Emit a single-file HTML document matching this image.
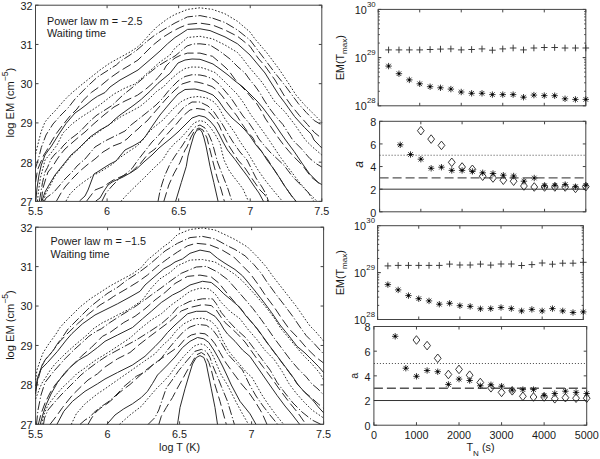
<!DOCTYPE html>
<html><head><meta charset="utf-8"><style>
html,body{margin:0;padding:0;background:#fff;}
svg{display:block;}
</style></head><body>
<svg width="600" height="459" viewBox="0 0 600 459" font-family='"Liberation Sans", sans-serif' fill="#1a1a1a">
<rect width="600" height="459" fill="#fff"/>
<g>
<rect x="35.5" y="5.2" width="286.30" height="196.20" stroke="#444" stroke-width="1" fill="none"/>
<text x="35.50" y="214.70" font-size="10.8" text-anchor="middle" >5.5</text>
<text x="107.08" y="214.70" font-size="10.8" text-anchor="middle" >6</text>
<text x="178.65" y="214.70" font-size="10.8" text-anchor="middle" >6.5</text>
<text x="250.23" y="214.70" font-size="10.8" text-anchor="middle" >7</text>
<text x="321.80" y="214.70" font-size="10.8" text-anchor="middle" >7.5</text>
<text x="32.50" y="205.80" font-size="10.8" text-anchor="end" >27</text>
<text x="32.50" y="166.56" font-size="10.8" text-anchor="end" >28</text>
<text x="32.50" y="127.32" font-size="10.8" text-anchor="end" >29</text>
<text x="32.50" y="88.08" font-size="10.8" text-anchor="end" >30</text>
<text x="32.50" y="48.84" font-size="10.8" text-anchor="end" >31</text>
<text x="32.50" y="9.60" font-size="10.8" text-anchor="end" >32</text>
<path d="M35.50,201.4v-3.0M35.50,5.2v3.0M107.08,201.4v-3.0M107.08,5.2v3.0M178.65,201.4v-3.0M178.65,5.2v3.0M250.23,201.4v-3.0M250.23,5.2v3.0M321.80,201.4v-3.0M321.80,5.2v3.0M35.5,201.40h3.0M321.8,201.40h-3.0M35.5,162.16h3.0M321.8,162.16h-3.0M35.5,122.92h3.0M321.8,122.92h-3.0M35.5,83.68h3.0M321.8,83.68h-3.0M35.5,44.44h3.0M321.8,44.44h-3.0M35.5,5.20h3.0M321.8,5.20h-3.0" stroke="#444" stroke-width="1" fill="none"/>
<text x="47" y="25.1" font-size="10.8" text-anchor="start" >Power law m = −2.5</text>
<text x="47" y="37.3" font-size="10.8" text-anchor="start" >Waiting time</text>
<text transform="translate(13.6,102.60) rotate(-90)" font-size="11.1" text-anchor="middle">log EM (cm<tspan dy="-5.3" font-size="8.6">−5</tspan><tspan dy="5.3">)</tspan></text>
<path d="M35.6,154.0L38.0,144.0L41.0,132.0L45.0,122.0L50.0,116.0L55.0,111.0L61.0,104.0L65.5,99.0L70.0,94.5L80.0,86.0L90.0,78.0L100.0,70.0L110.0,63.0L120.0,57.5L130.0,52.0L137.0,47.5L142.5,42.5L150.0,33.8L157.5,26.3L167.5,18.8L175.0,14.4L180.0,12.5L187.5,9.4L200.0,7.8L212.5,9.4L225.0,13.8L237.5,21.3L250.0,32.0L255.0,39.0L261.0,46.0L267.0,53.0L273.0,61.0L279.0,69.0L289.0,84.0L296.0,95.0L304.4,104.8L312.3,112.6L321.8,122.3" stroke="#2a2a2a" stroke-width="1" fill="none" stroke-dasharray="1.6,1.8"/>
<path d="M35.6,168.0L38.8,157.5L41.3,147.5L46.0,135.0L53.0,124.0L61.0,115.0L68.0,108.0L75.0,99.0L87.5,86.3L97.5,77.0L110.0,69.0L116.3,65.0L120.0,61.5L130.0,55.0L137.0,50.0L147.0,41.3L155.0,35.0L165.0,28.8L175.0,23.0L187.5,16.9L200.0,15.6L212.5,18.1L225.0,22.5L237.5,30.0L250.0,40.0L263.0,57.0L269.0,65.0L275.0,73.0L285.0,85.5L298.5,103.8L306.4,112.6L314.2,120.5L321.8,125.0" stroke="#2a2a2a" stroke-width="1" fill="none" stroke-dasharray="9,2.3,1.2,2"/>
<path d="M35.6,182.0L37.5,170.0L40.0,163.8L43.8,155.0L47.0,150.0L50.0,144.0L56.0,134.0L62.0,126.0L70.0,116.0L77.0,109.0L83.0,100.5L91.3,92.5L100.0,86.3L110.0,78.0L120.0,71.0L130.0,65.0L138.0,60.0L143.0,55.0L152.5,45.5L162.5,37.5L172.5,31.3L180.0,27.5L187.5,24.4L200.0,23.1L212.5,25.0L225.0,30.0L237.5,36.3L250.0,46.3L258.0,58.0L265.0,66.0L275.0,80.0L283.8,95.0L290.7,104.8L299.5,115.6L307.4,124.4L314.2,132.3L321.8,138.5" stroke="#2a2a2a" stroke-width="1" fill="none" stroke-dasharray="9.5,3.8"/>
<path d="M35.8,201.0L37.0,188.0L39.0,175.0L41.3,165.0L45.0,155.0L51.5,146.0L59.0,134.0L66.0,123.5L75.0,113.0L80.0,109.5L86.0,105.0L92.0,100.0L97.5,96.3L105.0,92.5L110.0,87.0L120.0,80.0L130.0,74.5L138.0,70.0L145.0,64.0L152.0,58.0L160.0,51.0L167.5,43.8L175.0,37.5L180.0,34.4L187.5,29.4L200.0,28.8L210.0,30.6L225.0,36.9L237.5,43.8L250.0,55.0L255.0,61.0L260.0,67.0L265.0,73.0L270.0,81.0L278.9,95.0L284.8,102.8L294.6,116.6L304.4,127.4L311.3,134.2L314.0,140.0L319.6,145.7L321.8,148.0" stroke="#2a2a2a" stroke-width="1" fill="none" />
<path d="M37.5,201.0L38.5,191.0L40.5,177.5L43.8,165.0L45.0,160.0L51.0,153.0L57.0,145.0L63.0,133.0L72.0,124.0L80.0,118.0L90.0,111.5L99.0,105.5L110.0,97.0L114.0,94.0L125.0,88.0L135.0,84.0L143.0,77.0L152.0,69.0L160.0,62.0L170.0,55.0L175.0,48.0L180.0,44.0L187.5,37.5L200.0,36.3L212.5,38.8L225.0,45.0L237.5,52.5L243.0,59.0L249.0,67.0L255.0,74.0L261.0,81.0L266.0,88.0L271.0,96.0L275.0,102.0L284.8,111.7L294.6,124.4L305.4,140.0L312.5,147.0L321.8,155.0" stroke="#2a2a2a" stroke-width="1" fill="none" stroke-dasharray="1.6,1.8"/>
<path d="M39.4,201.0L40.0,197.5L42.5,182.5L45.0,172.0L47.5,167.5L51.0,159.0L55.0,154.0L60.0,150.0L63.0,146.0L69.0,140.0L77.0,134.0L82.0,129.5L90.0,121.0L97.0,115.0L105.0,110.0L112.0,105.5L123.0,95.0L133.0,87.0L141.0,80.0L148.0,74.0L158.0,66.0L168.0,60.0L175.0,56.0L181.0,51.0L187.0,46.0L193.0,44.0L200.0,43.8L210.0,45.0L220.0,51.3L230.0,59.0L238.0,67.0L245.0,73.0L250.0,80.0L255.0,86.0L260.0,93.0L264.0,100.0L270.0,109.0L275.0,115.6L282.8,124.4L292.7,140.0L301.2,148.5L309.7,158.4L316.7,164.0L321.8,167.0" stroke="#2a2a2a" stroke-width="1" fill="none" stroke-dasharray="9,2.3,1.2,2"/>
<path d="M41.3,201.0L43.0,188.0L46.0,178.0L48.0,172.0L53.0,166.0L56.0,161.0L60.0,155.0L65.0,149.0L73.0,142.0L80.0,136.0L85.0,132.0L93.0,124.5L104.0,115.0L114.0,107.0L125.0,101.0L137.3,95.3L144.7,90.0L148.0,87.3L154.7,81.3L158.0,77.5L163.3,71.3L166.0,66.0L170.0,62.0L175.0,58.0L180.0,55.5L187.5,53.1L200.0,53.1L212.5,56.3L218.0,61.0L225.0,67.0L229.0,71.0L234.0,78.0L237.0,82.0L245.0,90.0L251.0,97.0L257.0,104.0L262.0,112.0L265.0,118.0L269.0,124.0L273.0,130.0L278.5,138.0L284.2,145.7L292.7,155.6L302.6,165.5L311.0,176.8L318.0,182.5L321.8,185.0" stroke="#2a2a2a" stroke-width="1" fill="none" stroke-dasharray="9.5,3.8"/>
<path d="M42.0,201.0L45.0,192.0L49.0,185.0L55.0,175.0L63.0,165.0L71.0,155.0L78.0,149.0L85.0,142.0L90.0,137.0L100.0,130.0L109.0,125.0L114.0,120.0L120.0,115.0L134.0,105.0L141.3,99.3L150.0,91.3L158.0,83.3L170.0,73.3L178.0,63.0L185.0,60.0L192.0,59.0L200.0,59.3L205.0,61.0L213.0,64.0L220.0,69.0L228.0,75.0L235.0,81.0L243.0,87.0L250.0,94.0L257.0,101.0L263.0,108.0L269.0,116.0L274.0,123.0L280.0,132.0L285.6,140.0L294.0,151.3L302.6,164.0L309.7,174.0L318.2,182.5L321.8,184.6" stroke="#2a2a2a" stroke-width="1" fill="none" />
<path d="M43.5,201.0L46.0,193.0L50.0,186.0L55.0,176.0L63.0,166.0L71.0,156.0L78.0,149.5L85.0,142.5L90.0,138.0L100.0,131.0L107.0,126.0L113.0,122.0L122.0,116.0L130.0,112.0L140.0,106.5L149.0,99.0L156.7,91.3L163.3,87.0L170.0,80.0L178.0,73.0L185.0,68.5L192.0,67.0L200.0,67.2L206.0,69.0L215.0,72.5L223.0,80.0L230.0,87.0L237.0,94.0L243.0,102.0L251.0,115.0L257.0,123.0L262.0,130.0L267.0,137.0L272.8,145.7L281.3,158.4L289.8,169.7L298.3,181.0L306.8,191.0L315.3,199.5L317.0,201.4" stroke="#2a2a2a" stroke-width="1" fill="none" stroke-dasharray="1.6,1.8"/>
<path d="M44.5,201.0L46.0,198.0L50.0,195.0L54.0,192.0L60.0,185.0L65.0,179.0L73.0,171.0L77.0,166.0L85.0,159.0L95.0,147.0L105.0,141.0L115.0,136.0L125.0,131.0L131.0,125.0L140.0,118.0L150.0,110.0L156.0,105.0L162.0,99.0L170.0,89.0L178.0,81.0L185.0,76.5L192.0,74.7L200.0,75.0L205.0,76.0L213.0,79.0L219.0,84.0L225.0,91.0L231.0,98.0L237.0,107.0L243.0,116.0L249.0,123.0L255.0,132.0L259.0,139.0L263.0,144.0L270.0,152.0L284.2,165.5L292.7,176.8L299.7,183.9L308.2,192.4L313.9,201.4" stroke="#2a2a2a" stroke-width="1" fill="none" stroke-dasharray="9,2.3,1.2,2"/>
<path d="M56.5,201.0L61.0,193.0L65.0,187.0L73.0,178.0L80.0,171.0L87.0,165.0L95.0,159.0L103.0,152.0L113.0,146.0L121.0,143.0L127.0,139.0L132.0,134.0L138.0,129.0L142.0,125.0L147.0,121.0L153.0,114.0L160.0,106.0L166.0,99.0L175.0,90.0L182.0,84.0L190.0,81.5L197.0,82.0L205.0,84.0L212.0,86.5L218.0,91.0L223.0,97.0L227.0,103.0L230.0,107.0L237.0,116.0L242.0,124.0L247.0,131.0L253.0,138.0L256.0,144.0L262.0,152.0L268.0,160.0L273.0,168.0L279.0,177.0L284.0,185.0L291.0,195.0L296.0,201.4" stroke="#2a2a2a" stroke-width="1" fill="none" stroke-dasharray="9.5,3.8"/>
<path d="M79.5,201.0L85.0,196.0L88.0,190.0L91.0,182.0L94.0,174.0L99.0,171.0L102.0,169.0L110.0,164.0L116.0,161.0L120.0,156.0L125.0,150.0L133.0,146.0L140.0,142.0L145.0,137.0L149.0,131.0L153.0,125.0L160.0,115.0L170.0,103.0L178.0,94.0L185.0,89.5L195.0,89.0L205.0,91.5L213.0,95.0L218.0,100.0L225.0,110.0L232.0,118.0L239.0,124.0L245.0,130.0L250.0,136.0L256.0,145.0L262.0,152.0L267.0,160.0L273.0,168.0L279.0,177.0L284.0,185.0L291.0,195.2L296.2,201.4" stroke="#2a2a2a" stroke-width="1" fill="none" />
<path d="M66.0,201.0L70.0,194.0L77.0,187.0L85.0,181.0L93.0,175.5L99.0,172.5L105.0,169.0L112.0,164.5L120.0,157.5L128.0,152.0L137.0,146.0L142.0,141.0L148.0,133.0L153.0,128.0L158.0,124.0L163.0,120.0L173.0,109.0L182.0,101.0L190.0,97.5L198.0,96.5L207.0,98.0L214.0,102.0L219.0,108.0L225.0,119.0L230.0,126.0L235.0,133.0L239.0,140.0L243.0,146.0L248.0,153.0L252.0,160.0L258.0,170.0L265.0,180.0L273.0,190.0L282.5,201.4" stroke="#2a2a2a" stroke-width="1" fill="none" stroke-dasharray="1.6,1.8"/>
<path d="M102.0,201.0L106.0,193.0L112.0,186.0L120.0,178.0L127.0,173.0L132.0,168.5L138.0,160.0L145.0,151.0L152.0,142.0L158.0,136.0L164.0,129.0L170.0,122.5L177.0,115.0L184.0,107.0L192.0,102.0L200.0,102.0L208.0,106.0L214.0,112.0L218.0,118.0L221.0,122.0L224.0,127.0L228.0,134.0L233.0,142.0L240.0,152.0L247.0,160.0L251.0,168.0L256.0,178.0L262.0,187.0L266.0,194.0L268.5,201.4" stroke="#2a2a2a" stroke-width="1" fill="none" stroke-dasharray="9,2.3,1.2,2"/>
<path d="M86.7,201.0L92.0,194.0L95.0,190.0L103.3,186.7L113.3,180.0L125.0,175.0L131.7,171.7L140.0,164.0L148.0,154.0L155.0,149.0L162.0,140.0L170.0,131.0L176.0,124.5L183.0,116.0L190.0,110.0L197.0,108.5L204.0,109.5L210.0,113.0L215.0,119.0L219.0,125.0L222.0,132.0L226.0,140.0L229.0,146.0L238.0,160.0L245.0,168.0L253.0,180.0L260.0,190.0L265.0,195.0L268.0,201.4" stroke="#2a2a2a" stroke-width="1" fill="none" stroke-dasharray="9.5,3.8"/>
<path d="M95.8,201.0L100.0,198.0L104.0,191.0L108.0,185.0L113.0,181.5L123.0,177.0L131.0,172.5L137.0,168.5L145.0,161.0L152.0,155.0L159.0,148.0L165.0,143.0L170.0,139.0L178.0,132.0L185.0,125.0L192.0,118.0L199.0,115.5L205.0,117.0L210.0,121.0L215.0,127.0L219.0,134.0L223.0,142.0L227.5,150.0L235.0,159.5L242.0,169.0L248.0,177.0L254.0,186.0L259.0,193.0L263.5,201.4" stroke="#2a2a2a" stroke-width="1" fill="none" />
<path d="M120.8,201.4L128.3,193.3L135.0,186.7L145.0,177.0L155.0,167.0L162.5,160.0L168.8,150.0L175.0,143.0L180.0,139.0L188.0,130.0L194.0,123.0L200.0,120.5L205.0,122.0L210.0,127.0L215.0,134.0L220.0,143.0L222.0,152.0L224.0,160.0L228.8,170.0L233.0,176.0L237.0,181.0L243.0,189.0L248.5,201.4" stroke="#2a2a2a" stroke-width="1" fill="none" stroke-dasharray="1.6,1.8"/>
<path d="M158.0,201.4L160.0,191.0L162.0,184.0L165.0,175.0L170.0,164.0L175.0,156.0L182.0,146.0L189.0,135.0L195.0,127.0L200.0,125.0L205.0,128.0L209.0,135.0L212.0,142.0L214.0,149.0L217.5,162.0L222.5,175.0L227.5,187.5L232.0,201.4" stroke="#2a2a2a" stroke-width="1" fill="none" stroke-dasharray="9,2.3,1.2,2"/>
<path d="M163.8,201.4L168.8,185.0L173.8,173.8L180.0,162.5L185.0,150.0L187.0,147.0L191.0,137.0L195.0,130.0L199.0,128.0L203.0,130.0L207.0,138.0L209.5,148.0L213.8,165.0L217.5,178.8L221.3,190.0L224.4,201.4" stroke="#2a2a2a" stroke-width="1" fill="none" stroke-dasharray="9.5,3.8"/>
<path d="M175.6,201.4L181.3,182.5L186.3,166.3L188.0,156.0L191.0,145.0L194.0,135.0L197.0,130.0L200.0,129.5L202.0,132.0L204.0,138.0L206.0,146.0L208.0,156.0L210.0,166.3L213.8,182.5L218.1,201.4" stroke="#2a2a2a" stroke-width="1" fill="none" />
<rect x="35.6" y="227.2" width="288.00" height="197.10" stroke="#444" stroke-width="1" fill="none"/>
<text x="35.60" y="437.60" font-size="10.8" text-anchor="middle" >5.5</text>
<text x="107.60" y="437.60" font-size="10.8" text-anchor="middle" >6</text>
<text x="179.60" y="437.60" font-size="10.8" text-anchor="middle" >6.5</text>
<text x="251.60" y="437.60" font-size="10.8" text-anchor="middle" >7</text>
<text x="323.60" y="437.60" font-size="10.8" text-anchor="middle" >7.5</text>
<text x="32.60" y="428.70" font-size="10.8" text-anchor="end" >27</text>
<text x="32.60" y="389.28" font-size="10.8" text-anchor="end" >28</text>
<text x="32.60" y="349.86" font-size="10.8" text-anchor="end" >29</text>
<text x="32.60" y="310.44" font-size="10.8" text-anchor="end" >30</text>
<text x="32.60" y="271.02" font-size="10.8" text-anchor="end" >31</text>
<text x="32.60" y="231.60" font-size="10.8" text-anchor="end" >32</text>
<path d="M35.60,424.3v-3.0M35.60,227.2v3.0M107.60,424.3v-3.0M107.60,227.2v3.0M179.60,424.3v-3.0M179.60,227.2v3.0M251.60,424.3v-3.0M251.60,227.2v3.0M323.60,424.3v-3.0M323.60,227.2v3.0M35.6,424.30h3.0M323.6,424.30h-3.0M35.6,384.88h3.0M323.6,384.88h-3.0M35.6,345.46h3.0M323.6,345.46h-3.0M35.6,306.04h3.0M323.6,306.04h-3.0M35.6,266.62h3.0M323.6,266.62h-3.0M35.6,227.20h3.0M323.6,227.20h-3.0" stroke="#444" stroke-width="1" fill="none"/>
<text x="50.6" y="245.2" font-size="10.8" text-anchor="start" >Power law m = −1.5</text>
<text x="50.6" y="257.5" font-size="10.8" text-anchor="start" >Waiting time</text>
<text transform="translate(13.6,325.05) rotate(-90)" font-size="11.1" text-anchor="middle">log EM (cm<tspan dy="-5.3" font-size="8.6">−5</tspan><tspan dy="5.3">)</tspan></text>
<path d="M35.6,380.0L37.0,370.0L40.0,361.0L43.0,353.0L48.0,345.0L52.0,339.5L56.0,334.0L60.0,327.5L65.0,322.0L70.0,317.0L80.0,307.0L90.0,299.0L100.0,292.5L110.0,286.0L120.0,280.5L132.5,273.8L141.3,267.5L147.5,260.0L155.0,253.8L162.5,247.5L170.0,242.0L177.5,234.5L190.0,229.5L202.5,228.0L215.0,230.0L227.5,235.8L235.0,239.5L247.5,247.0L257.5,257.0L266.3,267.0L272.5,275.8L278.3,283.3L287.7,295.3L297.0,307.3L305.0,319.0L310.0,326.0L315.7,331.7L323.6,341.0" stroke="#2a2a2a" stroke-width="1" fill="none" stroke-dasharray="1.6,1.8"/>
<path d="M35.6,386.0L37.5,380.0L40.0,371.3L42.5,364.0L46.0,359.0L52.0,352.0L58.0,343.0L64.0,335.0L68.0,329.0L80.0,317.0L90.0,307.0L100.0,299.0L108.0,293.0L118.0,287.0L126.3,280.5L138.8,272.5L148.8,265.0L157.5,257.5L165.0,251.0L177.5,243.3L190.0,237.6L202.5,236.4L215.0,238.9L227.5,245.8L235.0,249.5L245.0,255.8L253.8,264.5L261.3,273.3L266.3,281.0L275.7,294.0L285.0,306.0L293.0,316.7L300.0,327.0L306.3,335.7L314.3,343.7L323.6,354.0" stroke="#2a2a2a" stroke-width="1" fill="none" stroke-dasharray="9,2.3,1.2,2"/>
<path d="M35.6,391.0L38.0,380.0L41.3,367.5L45.0,360.0L52.5,351.3L60.0,341.3L68.0,333.0L77.5,323.8L88.8,313.8L100.0,305.0L110.0,299.0L113.8,296.3L128.8,287.5L138.8,281.3L147.5,275.0L157.5,266.3L167.5,258.8L177.5,252.0L187.5,245.8L196.0,243.3L208.8,244.5L221.3,249.5L233.8,257.0L242.5,265.8L250.0,273.3L258.3,284.7L266.3,296.7L274.3,307.3L282.3,319.3L289.0,328.7L298.3,338.3L306.3,347.7L315.7,357.0L323.6,363.0" stroke="#2a2a2a" stroke-width="1" fill="none" stroke-dasharray="9.5,3.8"/>
<path d="M35.6,394.0L37.5,377.5L41.3,368.8L47.5,362.5L57.5,351.3L66.3,340.0L72.0,333.5L82.5,323.8L95.0,315.0L105.0,310.0L117.5,303.8L130.0,297.0L140.0,291.3L145.0,285.0L155.0,276.3L163.8,268.8L170.0,265.5L175.0,262.0L182.5,258.9L190.0,253.3L200.0,250.1L210.0,252.0L217.5,258.3L225.0,263.3L235.0,269.5L242.5,275.8L248.8,283.3L254.3,290.0L263.7,302.0L271.7,312.7L280.0,325.0L287.7,334.3L297.0,346.3L305.0,353.0L311.7,359.7L318.3,366.3L323.6,372.5" stroke="#2a2a2a" stroke-width="1" fill="none" />
<path d="M35.6,399.0L39.0,390.0L42.0,383.0L46.0,377.0L50.0,370.5L55.0,364.0L60.0,359.0L65.0,354.0L70.0,349.5L75.0,345.0L81.0,340.0L87.0,335.0L93.0,329.0L102.0,323.0L110.0,319.0L117.5,315.0L130.0,308.8L142.5,300.0L151.3,288.0L160.0,278.8L170.0,272.5L177.5,265.8L190.0,260.1L202.5,259.5L215.0,262.0L227.5,269.5L235.0,274.5L242.5,281.0L255.7,295.3L265.0,306.0L274.3,318.0L281.0,328.7L288.0,337.0L295.7,346.3L303.7,355.7L311.7,363.7L319.7,373.0L323.6,380.0" stroke="#2a2a2a" stroke-width="1" fill="none" stroke-dasharray="1.6,1.8"/>
<path d="M36.5,424.4L38.0,410.0L41.0,395.0L45.0,382.5L53.8,371.3L65.0,358.8L73.8,350.0L85.0,340.0L88.8,336.3L96.3,331.3L101.3,328.8L110.0,322.5L120.0,316.0L133.8,307.5L146.3,298.8L151.3,295.0L160.0,288.8L170.0,281.3L181.3,273.3L196.3,267.0L206.3,266.4L217.5,272.0L227.5,279.5L236.0,289.0L245.0,299.3L253.0,308.7L261.0,319.3L267.7,328.7L274.3,338.3L282.3,349.0L290.3,359.7L298.3,369.0L306.3,377.0L311.7,383.7L318.0,389.0L323.6,395.0" stroke="#2a2a2a" stroke-width="1" fill="none" stroke-dasharray="9,2.3,1.2,2"/>
<path d="M38.3,424.4L41.0,414.0L45.0,403.0L50.0,393.0L55.0,385.0L62.5,376.3L71.3,366.3L81.3,356.3L91.3,347.5L102.5,336.3L110.0,332.5L123.8,322.5L135.0,316.3L145.0,308.8L155.0,300.0L165.0,292.5L175.0,283.5L187.5,276.4L200.0,275.1L211.3,277.0L218.8,283.0L227.5,293.8L235.0,302.5L245.0,314.0L250.3,320.7L257.0,328.7L261.0,334.3L267.7,343.7L275.7,354.3L283.7,365.0L291.7,375.7L297.0,383.7L303.7,391.3L311.7,398.0L318.3,404.0L323.6,408.4" stroke="#2a2a2a" stroke-width="1" fill="none" stroke-dasharray="9.5,3.8"/>
<path d="M40.2,424.4L43.0,414.0L46.0,405.0L51.0,394.0L57.5,382.5L65.0,372.5L71.3,366.3L78.8,360.0L87.5,355.0L97.5,347.5L105.0,341.3L117.5,335.0L132.5,327.5L142.5,318.8L151.3,311.3L161.3,302.5L172.5,295.0L180.0,291.3L190.0,285.0L202.5,281.3L211.3,282.5L217.5,287.5L223.8,293.8L231.3,300.0L240.0,307.5L246.0,316.0L251.3,321.7L258.0,329.7L262.0,335.3L268.7,344.7L276.7,355.3L284.7,366.0L292.7,376.7L298.0,384.7L304.7,392.3L312.7,400.0L318.3,407.0L323.6,412.8" stroke="#2a2a2a" stroke-width="1" fill="none" />
<path d="M42.0,424.4L43.0,418.0L44.5,413.0L48.0,405.0L55.0,396.0L63.0,387.0L70.0,380.5L77.0,373.5L85.0,368.0L95.0,360.5L110.0,351.3L117.5,346.3L130.0,338.0L140.0,329.0L151.3,320.0L161.3,313.8L171.3,305.0L180.0,298.8L190.0,291.3L200.0,288.1L208.8,288.8L215.0,293.8L221.3,302.5L230.0,311.3L240.0,318.8L247.7,329.0L257.0,339.7L265.0,350.3L274.3,359.7L282.3,371.7L289.0,383.7L296.0,393.0L304.0,402.0L312.0,410.0L323.6,418.0" stroke="#2a2a2a" stroke-width="1" fill="none" stroke-dasharray="1.6,1.8"/>
<path d="M43.5,424.4L44.5,418.0L48.0,410.0L53.0,404.0L61.0,395.0L68.0,388.0L76.0,380.0L81.0,375.0L87.0,370.0L95.0,364.0L100.0,360.5L106.3,356.3L120.0,348.8L136.3,340.0L150.0,331.3L161.3,323.8L171.3,315.0L177.5,307.5L190.0,301.3L202.5,298.8L212.5,298.8L216.3,303.8L221.3,312.5L227.5,320.0L235.0,328.0L246.3,338.3L254.3,349.0L262.3,359.7L270.3,370.3L277.0,382.3L285.0,393.0L293.0,403.0L302.0,412.0L312.0,420.0L321.0,424.4" stroke="#2a2a2a" stroke-width="1" fill="none" stroke-dasharray="9,2.3,1.2,2"/>
<path d="M50.0,424.4L56.3,416.3L62.5,407.5L72.5,395.0L81.3,386.3L88.0,380.0L97.5,373.8L105.0,367.0L117.5,358.8L130.0,352.5L140.0,344.0L150.0,336.3L160.0,328.8L170.0,321.3L181.3,311.0L190.0,307.5L202.5,304.6L211.3,305.6L216.3,310.0L221.3,317.5L225.0,322.5L230.0,327.0L237.5,334.0L245.0,342.0L255.7,357.0L263.7,367.7L271.7,378.3L280.0,390.0L289.0,402.0L298.0,413.0L306.0,424.4" stroke="#2a2a2a" stroke-width="1" fill="none" stroke-dasharray="9.5,3.8"/>
<path d="M56.9,424.4L63.8,411.3L72.5,401.3L85.0,391.3L97.5,383.8L105.0,379.0L117.5,372.5L132.5,365.0L145.0,356.3L155.0,346.5L161.3,340.0L167.5,332.5L175.0,325.0L180.0,320.5L187.5,313.8L196.3,311.3L206.3,311.3L215.0,316.3L220.0,322.5L223.8,329.0L227.5,334.0L235.0,341.3L242.5,350.0L250.0,356.5L258.0,368.0L267.7,382.0L277.0,395.3L285.0,406.0L291.7,414.0L299.7,424.4" stroke="#2a2a2a" stroke-width="1" fill="none" />
<path d="M71.3,424.4L76.3,413.8L85.0,403.8L97.5,393.8L105.0,388.8L117.5,380.0L130.0,371.3L142.5,362.5L155.0,353.8L163.0,345.0L170.0,338.8L176.0,331.0L183.8,323.8L193.8,318.8L202.5,318.1L211.3,321.3L217.5,328.0L222.5,340.0L228.8,351.3L235.0,358.8L241.3,366.3L247.0,373.0L251.7,377.0L255.7,384.0L262.0,395.0L268.0,404.0L276.0,415.0L283.7,424.4" stroke="#2a2a2a" stroke-width="1" fill="none" stroke-dasharray="1.6,1.8"/>
<path d="M80.0,424.4L85.0,420.0L90.0,417.0L94.0,412.5L100.0,407.5L108.0,402.0L114.0,397.0L119.0,392.0L124.0,386.5L130.0,381.5L136.3,376.3L146.3,371.3L152.5,365.0L160.0,360.0L167.5,350.0L175.0,341.0L183.8,331.3L190.0,327.0L197.5,324.4L206.3,325.3L212.5,329.5L217.5,336.3L222.5,345.0L227.5,353.8L235.0,362.0L242.5,370.0L249.0,383.7L256.0,396.0L263.0,406.0L270.0,415.0L277.7,424.4" stroke="#2a2a2a" stroke-width="1" fill="none" stroke-dasharray="9,2.3,1.2,2"/>
<path d="M88.0,424.4L91.0,419.0L93.0,416.0L96.0,412.0L100.0,408.5L108.0,403.0L114.0,398.0L119.0,393.0L126.0,387.5L130.0,384.5L135.0,380.0L146.0,370.0L157.5,361.3L170.0,352.5L178.8,346.3L185.0,339.0L191.3,335.0L198.8,333.1L205.0,333.8L210.0,337.5L215.0,343.8L220.0,352.5L226.0,363.0L233.8,373.8L241.3,383.8L248.8,392.5L256.0,403.0L262.0,413.0L267.0,424.4" stroke="#2a2a2a" stroke-width="1" fill="none" stroke-dasharray="9.5,3.8"/>
<path d="M106.9,424.4L115.0,415.0L123.8,408.8L132.5,403.8L141.3,397.5L147.5,391.3L152.5,383.5L157.5,375.0L160.0,372.5L167.5,365.0L175.0,357.0L182.5,347.5L190.0,341.3L197.5,337.5L203.8,338.8L208.8,342.5L213.8,350.0L218.8,358.8L222.5,366.0L226.3,374.0L231.3,385.0L240.0,401.3L250.0,413.8L256.0,424.4" stroke="#2a2a2a" stroke-width="1" fill="none" />
<path d="M119.4,424.4L130.0,415.0L141.3,406.3L148.8,397.5L156.3,388.8L163.8,381.3L170.0,374.5L176.0,366.0L183.8,356.3L193.8,346.3L200.0,343.8L205.0,345.0L210.0,350.0L213.8,357.5L217.5,366.3L221.3,375.0L227.5,385.0L236.3,402.5L242.0,413.0L248.5,424.4" stroke="#2a2a2a" stroke-width="1" fill="none" stroke-dasharray="1.6,1.8"/>
<path d="M148.1,424.4L155.0,417.5L158.8,410.0L162.5,399.0L166.3,388.0L171.3,381.3L178.8,370.5L187.5,360.0L195.0,351.3L201.3,349.4L206.3,351.3L210.0,357.5L212.5,365.0L215.0,371.0L218.0,378.0L221.3,386.3L227.5,401.3L234.4,424.4" stroke="#2a2a2a" stroke-width="1" fill="none" stroke-dasharray="9,2.3,1.2,2"/>
<path d="M158.8,424.4L161.3,416.3L166.3,407.5L172.5,397.5L177.5,388.0L182.0,380.0L187.5,370.0L191.3,363.8L196.3,355.0L201.3,352.5L205.0,355.0L208.8,362.5L211.3,370.0L215.0,385.0L220.0,401.3L226.3,424.4" stroke="#2a2a2a" stroke-width="1" fill="none" stroke-dasharray="9.5,3.8"/>
<path d="M177.5,424.4L180.0,407.5L185.0,388.8L188.5,377.0L192.5,364.0L196.3,357.5L200.0,355.6L203.8,357.5L206.3,363.8L207.5,370.0L211.3,388.8L215.0,407.5L217.5,424.4" stroke="#2a2a2a" stroke-width="1" fill="none" />
<text x="179.6" y="451.3" font-size="10.8" text-anchor="middle">log T (K)</text>
<rect x="378.2" y="9.4" width="207.60" height="96.40" stroke="#444" stroke-width="1" fill="none"/>
<path d="M378.20,105.8v-3.0M378.20,9.4v3.0M419.72,105.8v-3.0M419.72,9.4v3.0M461.24,105.8v-3.0M461.24,9.4v3.0M502.76,105.8v-3.0M502.76,9.4v3.0M544.28,105.8v-3.0M544.28,9.4v3.0M585.80,105.8v-3.0M585.80,9.4v3.0M378.2,105.80h3.0M585.8,105.80h-3.0M378.2,91.29h1.6M585.8,91.29h-1.6M378.2,82.80h1.6M585.8,82.80h-1.6M378.2,76.78h1.6M585.8,76.78h-1.6M378.2,72.11h1.6M585.8,72.11h-1.6M378.2,68.29h1.6M585.8,68.29h-1.6M378.2,65.07h1.6M585.8,65.07h-1.6M378.2,62.27h1.6M585.8,62.27h-1.6M378.2,59.81h1.6M585.8,59.81h-1.6M378.2,57.60h3.0M585.8,57.60h-3.0M378.2,57.60h3.0M585.8,57.60h-3.0M378.2,43.09h1.6M585.8,43.09h-1.6M378.2,34.60h1.6M585.8,34.60h-1.6M378.2,28.58h1.6M585.8,28.58h-1.6M378.2,23.91h1.6M585.8,23.91h-1.6M378.2,20.09h1.6M585.8,20.09h-1.6M378.2,16.87h1.6M585.8,16.87h-1.6M378.2,14.07h1.6M585.8,14.07h-1.6M378.2,11.61h1.6M585.8,11.61h-1.6M378.2,9.40h3.0M585.8,9.40h-3.0" stroke="#444" stroke-width="1" fill="none"/>
<text x="366.70" y="110.40" font-size="10.8" text-anchor="end" >10</text>
<text x="366.90" y="102.90" font-size="7.8" text-anchor="start" >28</text>
<text x="366.70" y="62.20" font-size="10.8" text-anchor="end" >10</text>
<text x="366.90" y="54.70" font-size="7.8" text-anchor="start" >29</text>
<text x="366.70" y="14.00" font-size="10.8" text-anchor="end" >10</text>
<text x="366.90" y="6.50" font-size="7.8" text-anchor="start" >30</text>
<text transform="translate(343.5,57.60) rotate(-90)" font-size="10.7" text-anchor="middle">EM(T<tspan dy="3" font-size="8">max</tspan><tspan dy="-3">)</tspan></text>
<path d="M385.28,49.90h6.6M388.58,46.60v6.6M395.66,49.90h6.6M398.96,46.60v6.6M406.04,49.90h6.6M409.34,46.60v6.6M416.42,49.90h6.6M419.72,46.60v6.6M426.80,49.50h6.6M430.10,46.20v6.6M437.18,49.10h6.6M440.48,45.80v6.6M447.56,48.90h6.6M450.86,45.60v6.6M457.94,49.90h6.6M461.24,46.60v6.6M468.32,49.50h6.6M471.62,46.20v6.6M478.70,48.90h6.6M482.00,45.60v6.6M489.08,50.20h6.6M492.38,46.90v6.6M499.46,48.90h6.6M502.76,45.60v6.6M509.84,48.00h6.6M513.14,44.70v6.6M520.22,49.90h6.6M523.52,46.60v6.6M530.60,48.00h6.6M533.90,44.70v6.6M540.98,47.50h6.6M544.28,44.20v6.6M551.36,47.50h6.6M554.66,44.20v6.6M561.74,48.00h6.6M565.04,44.70v6.6M572.12,48.00h6.6M575.42,44.70v6.6M582.50,48.00h6.6M585.80,44.70v6.6" stroke="#333" stroke-width="0.95" fill="none"/>
<path d="M385.38,66.10h6.4M388.58,62.90v6.4M386.28,63.80l4.61,4.61M386.28,68.40l4.61,-4.61M395.76,73.70h6.4M398.96,70.50v6.4M396.66,71.40l4.61,4.61M396.66,76.00l4.61,-4.61M406.14,79.90h6.4M409.34,76.70v6.4M407.04,77.60l4.61,4.61M407.04,82.20l4.61,-4.61M416.52,83.80h6.4M419.72,80.60v6.4M417.42,81.50l4.61,4.61M417.42,86.10l4.61,-4.61M426.90,86.70h6.4M430.10,83.50v6.4M427.80,84.40l4.61,4.61M427.80,89.00l4.61,-4.61M437.28,87.80h6.4M440.48,84.60v6.4M438.18,85.50l4.61,4.61M438.18,90.10l4.61,-4.61M447.66,89.10h6.4M450.86,85.90v6.4M448.56,86.80l4.61,4.61M448.56,91.40l4.61,-4.61M458.04,92.00h6.4M461.24,88.80v6.4M458.94,89.70l4.61,4.61M458.94,94.30l4.61,-4.61M468.42,93.30h6.4M471.62,90.10v6.4M469.32,91.00l4.61,4.61M469.32,95.60l4.61,-4.61M478.80,93.30h6.4M482.00,90.10v6.4M479.70,91.00l4.61,4.61M479.70,95.60l4.61,-4.61M489.18,94.60h6.4M492.38,91.40v6.4M490.08,92.30l4.61,4.61M490.08,96.90l4.61,-4.61M499.56,94.60h6.4M502.76,91.40v6.4M500.46,92.30l4.61,4.61M500.46,96.90l4.61,-4.61M509.94,94.60h6.4M513.14,91.40v6.4M510.84,92.30l4.61,4.61M510.84,96.90l4.61,-4.61M520.32,97.20h6.4M523.52,94.00v6.4M521.22,94.90l4.61,4.61M521.22,99.50l4.61,-4.61M530.70,95.10h6.4M533.90,91.90v6.4M531.60,92.80l4.61,4.61M531.60,97.40l4.61,-4.61M541.08,95.60h6.4M544.28,92.40v6.4M541.98,93.30l4.61,4.61M541.98,97.90l4.61,-4.61M551.46,95.70h6.4M554.66,92.50v6.4M552.36,93.40l4.61,4.61M552.36,98.00l4.61,-4.61M561.84,98.80h6.4M565.04,95.60v6.4M562.74,96.50l4.61,4.61M562.74,101.10l4.61,-4.61M572.22,99.40h6.4M575.42,96.20v6.4M573.12,97.10l4.61,4.61M573.12,101.70l4.61,-4.61M582.60,99.40h6.4M585.80,96.20v6.4M583.50,97.10l4.61,4.61M583.50,101.70l4.61,-4.61" stroke="#222" stroke-width="0.9" fill="none"/>
<g fill="#000"><circle cx="388.58" cy="66.10" r="1.1"/><circle cx="398.96" cy="73.70" r="1.1"/><circle cx="409.34" cy="79.90" r="1.1"/><circle cx="419.72" cy="83.80" r="1.1"/><circle cx="430.10" cy="86.70" r="1.1"/><circle cx="440.48" cy="87.80" r="1.1"/><circle cx="450.86" cy="89.10" r="1.1"/><circle cx="461.24" cy="92.00" r="1.1"/><circle cx="471.62" cy="93.30" r="1.1"/><circle cx="482.00" cy="93.30" r="1.1"/><circle cx="492.38" cy="94.60" r="1.1"/><circle cx="502.76" cy="94.60" r="1.1"/><circle cx="513.14" cy="94.60" r="1.1"/><circle cx="523.52" cy="97.20" r="1.1"/><circle cx="533.90" cy="95.10" r="1.1"/><circle cx="544.28" cy="95.60" r="1.1"/><circle cx="554.66" cy="95.70" r="1.1"/><circle cx="565.04" cy="98.80" r="1.1"/><circle cx="575.42" cy="99.40" r="1.1"/><circle cx="585.80" cy="99.40" r="1.1"/></g>
<rect x="377.6" y="225.7" width="205.70" height="93.80" stroke="#444" stroke-width="1" fill="none"/>
<path d="M377.60,319.5v-3.0M377.60,225.7v3.0M418.74,319.5v-3.0M418.74,225.7v3.0M459.88,319.5v-3.0M459.88,225.7v3.0M501.02,319.5v-3.0M501.02,225.7v3.0M542.16,319.5v-3.0M542.16,225.7v3.0M583.30,319.5v-3.0M583.30,225.7v3.0M377.6,319.50h3.0M583.3,319.50h-3.0M377.6,305.38h1.6M583.3,305.38h-1.6M377.6,297.12h1.6M583.3,297.12h-1.6M377.6,291.26h1.6M583.3,291.26h-1.6M377.6,286.72h1.6M583.3,286.72h-1.6M377.6,283.00h1.6M583.3,283.00h-1.6M377.6,279.86h1.6M583.3,279.86h-1.6M377.6,277.15h1.6M583.3,277.15h-1.6M377.6,274.75h1.6M583.3,274.75h-1.6M377.6,272.60h3.0M583.3,272.60h-3.0M377.6,272.60h3.0M583.3,272.60h-3.0M377.6,258.48h1.6M583.3,258.48h-1.6M377.6,250.22h1.6M583.3,250.22h-1.6M377.6,244.36h1.6M583.3,244.36h-1.6M377.6,239.82h1.6M583.3,239.82h-1.6M377.6,236.10h1.6M583.3,236.10h-1.6M377.6,232.96h1.6M583.3,232.96h-1.6M377.6,230.25h1.6M583.3,230.25h-1.6M377.6,227.85h1.6M583.3,227.85h-1.6M377.6,225.70h3.0M583.3,225.70h-3.0" stroke="#444" stroke-width="1" fill="none"/>
<text x="366.10" y="324.10" font-size="10.8" text-anchor="end" >10</text>
<text x="366.30" y="316.60" font-size="7.8" text-anchor="start" >28</text>
<text x="366.10" y="277.20" font-size="10.8" text-anchor="end" >10</text>
<text x="366.30" y="269.70" font-size="7.8" text-anchor="start" >29</text>
<text x="366.10" y="230.30" font-size="10.8" text-anchor="end" >10</text>
<text x="366.30" y="222.80" font-size="7.8" text-anchor="start" >30</text>
<text transform="translate(343.5,272.60) rotate(-90)" font-size="10.7" text-anchor="middle">EM(T<tspan dy="3" font-size="8">max</tspan><tspan dy="-3">)</tspan></text>
<path d="M384.58,265.90h6.6M387.88,262.60v6.6M394.87,265.40h6.6M398.17,262.10v6.6M405.16,265.40h6.6M408.46,262.10v6.6M415.44,265.40h6.6M418.74,262.10v6.6M425.72,265.40h6.6M429.02,262.10v6.6M436.01,265.40h6.6M439.31,262.10v6.6M446.30,264.10h6.6M449.60,260.80v6.6M456.58,265.00h6.6M459.88,261.70v6.6M466.86,265.00h6.6M470.16,261.70v6.6M477.15,264.10h6.6M480.45,260.80v6.6M487.44,265.10h6.6M490.74,261.80v6.6M497.72,264.00h6.6M501.02,260.70v6.6M508.00,264.00h6.6M511.30,260.70v6.6M518.29,265.50h6.6M521.59,262.20v6.6M528.58,264.60h6.6M531.88,261.30v6.6M538.86,263.00h6.6M542.16,259.70v6.6M549.14,264.20h6.6M552.44,260.90v6.6M559.43,263.20h6.6M562.73,259.90v6.6M569.72,263.20h6.6M573.01,259.90v6.6M580.00,262.30h6.6M583.30,259.00v6.6" stroke="#333" stroke-width="0.95" fill="none"/>
<path d="M384.69,284.60h6.4M387.88,281.40v6.4M385.58,282.30l4.61,4.61M385.58,286.90l4.61,-4.61M394.97,289.90h6.4M398.17,286.70v6.4M395.87,287.60l4.61,4.61M395.87,292.20l4.61,-4.61M405.26,295.60h6.4M408.46,292.40v6.4M406.15,293.30l4.61,4.61M406.15,297.90l4.61,-4.61M415.54,298.70h6.4M418.74,295.50v6.4M416.44,296.40l4.61,4.61M416.44,301.00l4.61,-4.61M425.82,300.90h6.4M429.02,297.70v6.4M426.72,298.60l4.61,4.61M426.72,303.20l4.61,-4.61M436.11,304.20h6.4M439.31,301.00v6.4M437.01,301.90l4.61,4.61M437.01,306.50l4.61,-4.61M446.40,303.30h6.4M449.60,300.10v6.4M447.29,301.00l4.61,4.61M447.29,305.60l4.61,-4.61M456.68,305.70h6.4M459.88,302.50v6.4M457.58,303.40l4.61,4.61M457.58,308.00l4.61,-4.61M466.96,306.40h6.4M470.16,303.20v6.4M467.86,304.10l4.61,4.61M467.86,308.70l4.61,-4.61M477.25,308.80h6.4M480.45,305.60v6.4M478.15,306.50l4.61,4.61M478.15,311.10l4.61,-4.61M487.54,308.60h6.4M490.74,305.40v6.4M488.43,306.30l4.61,4.61M488.43,310.90l4.61,-4.61M497.82,307.50h6.4M501.02,304.30v6.4M498.72,305.20l4.61,4.61M498.72,309.80l4.61,-4.61M508.10,308.60h6.4M511.30,305.40v6.4M509.00,306.30l4.61,4.61M509.00,310.90l4.61,-4.61M518.39,310.90h6.4M521.59,307.70v6.4M519.29,308.60l4.61,4.61M519.29,313.20l4.61,-4.61M528.67,309.40h6.4M531.88,306.20v6.4M529.57,307.10l4.61,4.61M529.57,311.70l4.61,-4.61M538.96,310.90h6.4M542.16,307.70v6.4M539.86,308.60l4.61,4.61M539.86,313.20l4.61,-4.61M549.24,308.60h6.4M552.44,305.40v6.4M550.14,306.30l4.61,4.61M550.14,310.90l4.61,-4.61M559.53,310.90h6.4M562.73,307.70v6.4M560.43,308.60l4.61,4.61M560.43,313.20l4.61,-4.61M569.81,312.50h6.4M573.01,309.30v6.4M570.71,310.20l4.61,4.61M570.71,314.80l4.61,-4.61M580.10,311.90h6.4M583.30,308.70v6.4M581.00,309.60l4.61,4.61M581.00,314.20l4.61,-4.61" stroke="#222" stroke-width="0.9" fill="none"/>
<g fill="#000"><circle cx="387.88" cy="284.60" r="1.1"/><circle cx="398.17" cy="289.90" r="1.1"/><circle cx="408.46" cy="295.60" r="1.1"/><circle cx="418.74" cy="298.70" r="1.1"/><circle cx="429.02" cy="300.90" r="1.1"/><circle cx="439.31" cy="304.20" r="1.1"/><circle cx="449.60" cy="303.30" r="1.1"/><circle cx="459.88" cy="305.70" r="1.1"/><circle cx="470.16" cy="306.40" r="1.1"/><circle cx="480.45" cy="308.80" r="1.1"/><circle cx="490.74" cy="308.60" r="1.1"/><circle cx="501.02" cy="307.50" r="1.1"/><circle cx="511.30" cy="308.60" r="1.1"/><circle cx="521.59" cy="310.90" r="1.1"/><circle cx="531.88" cy="309.40" r="1.1"/><circle cx="542.16" cy="310.90" r="1.1"/><circle cx="552.44" cy="308.60" r="1.1"/><circle cx="562.73" cy="310.90" r="1.1"/><circle cx="573.01" cy="312.50" r="1.1"/><circle cx="583.30" cy="311.90" r="1.1"/></g>
<rect x="379.6" y="121.3" width="206.20" height="90.50" stroke="#444" stroke-width="1" fill="none"/>
<text x="376.20" y="216.60" font-size="10.8" text-anchor="end" >0</text>
<text x="376.20" y="193.98" font-size="10.8" text-anchor="end" >2</text>
<text x="376.20" y="171.35" font-size="10.8" text-anchor="end" >4</text>
<text x="376.20" y="148.73" font-size="10.8" text-anchor="end" >6</text>
<text x="376.20" y="126.10" font-size="10.8" text-anchor="end" >8</text>
<path d="M379.60,211.8v-3.0M379.60,121.3v3.0M420.84,211.8v-3.0M420.84,121.3v3.0M462.08,211.8v-3.0M462.08,121.3v3.0M503.32,211.8v-3.0M503.32,121.3v3.0M544.56,211.8v-3.0M544.56,121.3v3.0M585.80,211.8v-3.0M585.80,121.3v3.0M379.6,211.80h3.0M585.8,211.80h-3.0M379.6,189.18h3.0M585.8,189.18h-3.0M379.6,166.55h3.0M585.8,166.55h-3.0M379.6,143.93h3.0M585.8,143.93h-3.0M379.6,121.30h3.0M585.8,121.30h-3.0" stroke="#444" stroke-width="1" fill="none"/>
<path d="M379.6,189.18H585.8" stroke="#333" stroke-width="1"/>
<path d="M379.6,177.86H585.8" stroke="#555" stroke-width="1.4" stroke-dasharray="9,4"/>
<path d="M379.6,155.24H585.8" stroke="#333" stroke-width="0.9" stroke-dasharray="1,2"/>
<path d="M420.84,126.40l3.4,4.3l-3.4,4.3l-3.4,-4.3zM431.15,134.80l3.4,4.3l-3.4,4.3l-3.4,-4.3zM441.46,141.10l3.4,4.3l-3.4,4.3l-3.4,-4.3zM451.77,158.00l3.4,4.3l-3.4,4.3l-3.4,-4.3zM462.08,162.70l3.4,4.3l-3.4,4.3l-3.4,-4.3zM472.39,165.00l3.4,4.3l-3.4,4.3l-3.4,-4.3zM482.70,171.90l3.4,4.3l-3.4,4.3l-3.4,-4.3zM493.01,173.70l3.4,4.3l-3.4,4.3l-3.4,-4.3zM503.32,175.90l3.4,4.3l-3.4,4.3l-3.4,-4.3zM513.63,176.90l3.4,4.3l-3.4,4.3l-3.4,-4.3zM523.94,181.70l3.4,4.3l-3.4,4.3l-3.4,-4.3zM534.25,182.70l3.4,4.3l-3.4,4.3l-3.4,-4.3zM544.56,182.70l3.4,4.3l-3.4,4.3l-3.4,-4.3zM554.87,182.70l3.4,4.3l-3.4,4.3l-3.4,-4.3zM565.18,182.70l3.4,4.3l-3.4,4.3l-3.4,-4.3zM575.49,184.10l3.4,4.3l-3.4,4.3l-3.4,-4.3zM585.80,182.40l3.4,4.3l-3.4,4.3l-3.4,-4.3z" stroke="#222" stroke-width="0.9" fill="none"/>
<path d="M397.02,144.80h6.4M400.22,141.60v6.4M397.92,142.50l4.61,4.61M397.92,147.10l4.61,-4.61M407.33,154.50h6.4M410.53,151.30v6.4M408.23,152.20l4.61,4.61M408.23,156.80l4.61,-4.61M417.64,159.20h6.4M420.84,156.00v6.4M418.54,156.90l4.61,4.61M418.54,161.50l4.61,-4.61M427.95,168.30h6.4M431.15,165.10v6.4M428.85,166.00l4.61,4.61M428.85,170.60l4.61,-4.61M438.26,167.20h6.4M441.46,164.00v6.4M439.16,164.90l4.61,4.61M439.16,169.50l4.61,-4.61M448.57,170.40h6.4M451.77,167.20v6.4M449.47,168.10l4.61,4.61M449.47,172.70l4.61,-4.61M458.88,170.40h6.4M462.08,167.20v6.4M459.78,168.10l4.61,4.61M459.78,172.70l4.61,-4.61M469.19,171.40h6.4M472.39,168.20v6.4M470.09,169.10l4.61,4.61M470.09,173.70l4.61,-4.61M479.50,172.80h6.4M482.70,169.60v6.4M480.40,170.50l4.61,4.61M480.40,175.10l4.61,-4.61M489.81,173.50h6.4M493.01,170.30v6.4M490.71,171.20l4.61,4.61M490.71,175.80l4.61,-4.61M500.12,175.20h6.4M503.32,172.00v6.4M501.02,172.90l4.61,4.61M501.02,177.50l4.61,-4.61M510.43,176.00h6.4M513.63,172.80v6.4M511.33,173.70l4.61,4.61M511.33,178.30l4.61,-4.61M520.74,181.20h6.4M523.94,178.00v6.4M521.64,178.90l4.61,4.61M521.64,183.50l4.61,-4.61M531.05,178.00h6.4M534.25,174.80v6.4M531.95,175.70l4.61,4.61M531.95,180.30l4.61,-4.61M541.36,185.70h6.4M544.56,182.50v6.4M542.26,183.40l4.61,4.61M542.26,188.00l4.61,-4.61M551.67,185.30h6.4M554.87,182.10v6.4M552.57,183.00l4.61,4.61M552.57,187.60l4.61,-4.61M561.98,184.60h6.4M565.18,181.40v6.4M562.88,182.30l4.61,4.61M562.88,186.90l4.61,-4.61M572.29,186.70h6.4M575.49,183.50v6.4M573.19,184.40l4.61,4.61M573.19,189.00l4.61,-4.61M582.60,185.30h6.4M585.80,182.10v6.4M583.50,183.00l4.61,4.61M583.50,187.60l4.61,-4.61" stroke="#222" stroke-width="0.9" fill="none"/>
<g fill="#000"><circle cx="400.22" cy="144.80" r="1.1"/><circle cx="410.53" cy="154.50" r="1.1"/><circle cx="420.84" cy="159.20" r="1.1"/><circle cx="431.15" cy="168.30" r="1.1"/><circle cx="441.46" cy="167.20" r="1.1"/><circle cx="451.77" cy="170.40" r="1.1"/><circle cx="462.08" cy="170.40" r="1.1"/><circle cx="472.39" cy="171.40" r="1.1"/><circle cx="482.70" cy="172.80" r="1.1"/><circle cx="493.01" cy="173.50" r="1.1"/><circle cx="503.32" cy="175.20" r="1.1"/><circle cx="513.63" cy="176.00" r="1.1"/><circle cx="523.94" cy="181.20" r="1.1"/><circle cx="534.25" cy="178.00" r="1.1"/><circle cx="544.56" cy="185.70" r="1.1"/><circle cx="554.87" cy="185.30" r="1.1"/><circle cx="565.18" cy="184.60" r="1.1"/><circle cx="575.49" cy="186.70" r="1.1"/><circle cx="585.80" cy="185.30" r="1.1"/></g>
<text transform="translate(363.3,164.5) rotate(-90)" font-size="12" font-style="italic" text-anchor="middle">a</text>
<rect x="373.9" y="326.5" width="212.80" height="98.70" stroke="#444" stroke-width="1" fill="none"/>
<text x="370.50" y="430.00" font-size="10.8" text-anchor="end" >0</text>
<text x="370.50" y="405.32" font-size="10.8" text-anchor="end" >2</text>
<text x="370.50" y="380.65" font-size="10.8" text-anchor="end" >4</text>
<text x="370.50" y="355.98" font-size="10.8" text-anchor="end" >6</text>
<text x="370.50" y="331.30" font-size="10.8" text-anchor="end" >8</text>
<path d="M373.90,425.2v-3.0M373.90,326.5v3.0M416.46,425.2v-3.0M416.46,326.5v3.0M459.02,425.2v-3.0M459.02,326.5v3.0M501.58,425.2v-3.0M501.58,326.5v3.0M544.14,425.2v-3.0M544.14,326.5v3.0M586.70,425.2v-3.0M586.70,326.5v3.0M373.9,425.20h3.0M586.7,425.20h-3.0M373.9,400.52h3.0M586.7,400.52h-3.0M373.9,375.85h3.0M586.7,375.85h-3.0M373.9,351.18h3.0M586.7,351.18h-3.0M373.9,326.50h3.0M586.7,326.50h-3.0" stroke="#444" stroke-width="1" fill="none"/>
<path d="M373.9,400.52H586.7" stroke="#333" stroke-width="1"/>
<path d="M373.9,388.19H586.7" stroke="#555" stroke-width="1.4" stroke-dasharray="9,4"/>
<path d="M373.9,363.51H586.7" stroke="#333" stroke-width="0.9" stroke-dasharray="1,2"/>
<path d="M416.46,335.70l3.4,4.3l-3.4,4.3l-3.4,-4.3zM427.10,341.30l3.4,4.3l-3.4,4.3l-3.4,-4.3zM437.74,354.00l3.4,4.3l-3.4,4.3l-3.4,-4.3zM448.38,370.20l3.4,4.3l-3.4,4.3l-3.4,-4.3zM459.02,365.10l3.4,4.3l-3.4,4.3l-3.4,-4.3zM469.66,370.90l3.4,4.3l-3.4,4.3l-3.4,-4.3zM480.30,378.20l3.4,4.3l-3.4,4.3l-3.4,-4.3zM490.94,383.50l3.4,4.3l-3.4,4.3l-3.4,-4.3zM501.58,388.10l3.4,4.3l-3.4,4.3l-3.4,-4.3zM512.22,386.50l3.4,4.3l-3.4,4.3l-3.4,-4.3zM522.86,392.00l3.4,4.3l-3.4,4.3l-3.4,-4.3zM533.50,392.70l3.4,4.3l-3.4,4.3l-3.4,-4.3zM544.14,392.70l3.4,4.3l-3.4,4.3l-3.4,-4.3zM554.78,394.50l3.4,4.3l-3.4,4.3l-3.4,-4.3zM565.42,393.40l3.4,4.3l-3.4,4.3l-3.4,-4.3zM576.06,393.90l3.4,4.3l-3.4,4.3l-3.4,-4.3zM586.70,393.90l3.4,4.3l-3.4,4.3l-3.4,-4.3z" stroke="#222" stroke-width="0.9" fill="none"/>
<path d="M391.98,336.30h6.4M395.18,333.10v6.4M392.88,334.00l4.61,4.61M392.88,338.60l4.61,-4.61M402.62,368.20h6.4M405.82,365.00v6.4M403.52,365.90l4.61,4.61M403.52,370.50l4.61,-4.61M413.26,376.30h6.4M416.46,373.10v6.4M414.16,374.00l4.61,4.61M414.16,378.60l4.61,-4.61M423.90,370.50h6.4M427.10,367.30v6.4M424.80,368.20l4.61,4.61M424.80,372.80l4.61,-4.61M434.54,371.70h6.4M437.74,368.50v6.4M435.44,369.40l4.61,4.61M435.44,374.00l4.61,-4.61M445.18,384.40h6.4M448.38,381.20v6.4M446.08,382.10l4.61,4.61M446.08,386.70l4.61,-4.61M455.82,379.10h6.4M459.02,375.90v6.4M456.72,376.80l4.61,4.61M456.72,381.40l4.61,-4.61M466.46,380.50h6.4M469.66,377.30v6.4M467.36,378.20l4.61,4.61M467.36,382.80l4.61,-4.61M477.10,385.80h6.4M480.30,382.60v6.4M478.00,383.50l4.61,4.61M478.00,388.10l4.61,-4.61M487.74,384.80h6.4M490.94,381.60v6.4M488.64,382.50l4.61,4.61M488.64,387.10l4.61,-4.61M498.38,386.20h6.4M501.58,383.00v6.4M499.28,383.90l4.61,4.61M499.28,388.50l4.61,-4.61M509.02,390.10h6.4M512.22,386.90v6.4M509.92,387.80l4.61,4.61M509.92,392.40l4.61,-4.61M519.66,389.60h6.4M522.86,386.40v6.4M520.56,387.30l4.61,4.61M520.56,391.90l4.61,-4.61M530.30,389.60h6.4M533.50,386.40v6.4M531.20,387.30l4.61,4.61M531.20,391.90l4.61,-4.61M540.94,395.40h6.4M544.14,392.20v6.4M541.84,393.10l4.61,4.61M541.84,397.70l4.61,-4.61M551.58,393.50h6.4M554.78,390.30v6.4M552.48,391.20l4.61,4.61M552.48,395.80l4.61,-4.61M562.22,391.20h6.4M565.42,388.00v6.4M563.12,388.90l4.61,4.61M563.12,393.50l4.61,-4.61M572.86,392.40h6.4M576.06,389.20v6.4M573.76,390.10l4.61,4.61M573.76,394.70l4.61,-4.61M583.50,393.50h6.4M586.70,390.30v6.4M584.40,391.20l4.61,4.61M584.40,395.80l4.61,-4.61" stroke="#222" stroke-width="0.9" fill="none"/>
<g fill="#000"><circle cx="395.18" cy="336.30" r="1.1"/><circle cx="405.82" cy="368.20" r="1.1"/><circle cx="416.46" cy="376.30" r="1.1"/><circle cx="427.10" cy="370.50" r="1.1"/><circle cx="437.74" cy="371.70" r="1.1"/><circle cx="448.38" cy="384.40" r="1.1"/><circle cx="459.02" cy="379.10" r="1.1"/><circle cx="469.66" cy="380.50" r="1.1"/><circle cx="480.30" cy="385.80" r="1.1"/><circle cx="490.94" cy="384.80" r="1.1"/><circle cx="501.58" cy="386.20" r="1.1"/><circle cx="512.22" cy="390.10" r="1.1"/><circle cx="522.86" cy="389.60" r="1.1"/><circle cx="533.50" cy="389.60" r="1.1"/><circle cx="544.14" cy="395.40" r="1.1"/><circle cx="554.78" cy="393.50" r="1.1"/><circle cx="565.42" cy="391.20" r="1.1"/><circle cx="576.06" cy="392.40" r="1.1"/><circle cx="586.70" cy="393.50" r="1.1"/></g>
<text transform="translate(358.3,375.8) rotate(-90)" font-size="10.7" text-anchor="middle">a</text>
<text x="373.90" y="438.6" font-size="10.8" text-anchor="middle" >0</text>
<text x="416.46" y="438.6" font-size="10.8" text-anchor="middle" >1000</text>
<text x="459.02" y="438.6" font-size="10.8" text-anchor="middle" >2000</text>
<text x="501.58" y="438.6" font-size="10.8" text-anchor="middle" >3000</text>
<text x="544.14" y="438.6" font-size="10.8" text-anchor="middle" >4000</text>
<text x="586.70" y="438.6" font-size="10.8" text-anchor="middle" >5000</text>
<text x="466.5" y="450.6" font-size="10.8">T<tspan dy="5" font-size="8">N</tspan><tspan dy="-5"> (s)</tspan></text>
</g>
</svg>
</body></html>
